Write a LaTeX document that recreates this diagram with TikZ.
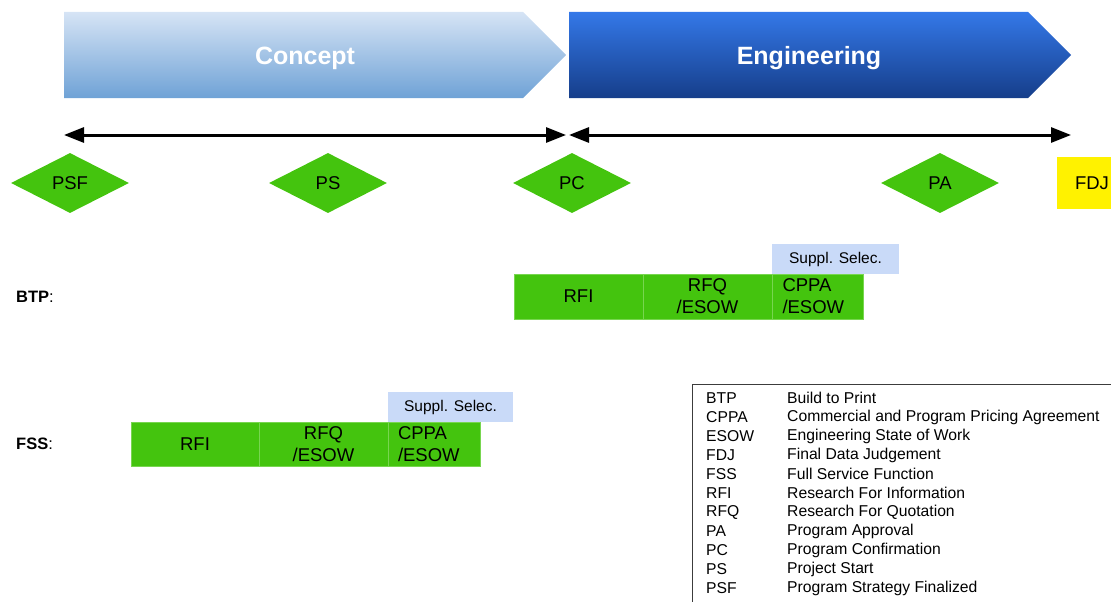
\documentclass[tikz,border=0pt]{standalone}
\usepackage{fontspec}
\setmainfont{Liberation Sans}
\usetikzlibrary{shapes.geometric,arrows.meta}
\definecolor{msgreen}{RGB}{68,196,14}
\definecolor{msline}{RGB}{120,214,80}
\definecolor{conceptTop}{RGB}{214,228,245}
\definecolor{conceptBot}{RGB}{111,162,214}
\definecolor{engTop}{RGB}{52,120,232}
\definecolor{engBot}{RGB}{22,62,138}
\definecolor{supplblue}{RGB}{201,218,248}
\definecolor{legendline}{RGB}{60,60,60}
\begin{document}
\begin{tikzpicture}[x=1pt,y=-1pt,
  phasetext/.style={text=white,anchor=base,font=\fontsize{25}{28}\selectfont\bfseries},
  timeline/.style={line width=3pt,{Triangle[length=20pt,width=15pt]}-{Triangle[length=20pt,width=15pt]}},
  milestone/.style={diamond,fill=msgreen,minimum width=118pt,minimum height=60pt,inner sep=0pt,
    font=\fontsize{18.5}{22}\selectfont},
  cell/.style={rectangle,fill=msgreen,draw=msline,line width=0.6pt,inner sep=0pt,
    font=\fontsize{18.5}{22}\selectfont,align=center},
  selbox/.style={rectangle,fill=supplblue,inner sep=0pt,font=\fontsize{15.5}{18}\selectfont},
  rowlabel/.style={anchor=west,inner sep=0pt,font=\fontsize{16.5}{20}\selectfont},
  legtext/.style={anchor=west,inner sep=0pt,font=\fontsize{15.7}{18}\selectfont}]
\useasboundingbox (0,0) rectangle (1111,602);

% phase chevrons
\shade[top color=conceptTop,bottom color=conceptBot]
  (64,12) -- (523,12) -- (566,55) -- (523,98) -- (64,98) -- cycle;
\shade[top color=engTop,bottom color=engBot]
  (569,12) -- (1028,12) -- (1071,55) -- (1028,98) -- (569,98) -- cycle;
\node[phasetext] (concept) at (305,64) {Concept};
\node[phasetext] (engineering) at (809,64) {Engineering};

% phase time spans
\coordinate (cs) at (64,135);
\coordinate (ce) at (566,135);
\coordinate (es) at (569,135);
\coordinate (ee) at (1071,135);
\draw[timeline] (cs) -- (ce);
\draw[timeline] (es) -- (ee);

% milestones
\node[milestone] (psf) at (70,183) {PSF};
\node[milestone] (ps) at (328,183) {PS};
\node[milestone] (pc) at (572,183) {PC};
\node[milestone] (pa) at (940,183) {PA};
\node[fill=yellow,minimum width=70pt,minimum height=52pt,inner sep=0pt,
  font=\fontsize{18.5}{22}\selectfont] (fdj) at (1092,183) {FDJ};

% Build to Print
\node[rowlabel] (btp) at (16,297) {\textbf{BTP}:};
\node[cell,minimum width=129pt,minimum height=45pt] (btprfi) at (578.5,296.5) {RFI};
\node[cell,minimum width=129pt,minimum height=45pt] (btprfq) at (707.5,296.5) {RFQ\\/ESOW};
\node[cell,minimum width=91pt,minimum height=45pt,align=left,text width=70pt] (btpcppa) at (817.5,296.5) {CPPA\\/ESOW};
\node[selbox,minimum width=127pt,minimum height=30pt] (btpsel) at (835.5,259) {Suppl. Selec.};

% Full Service Function
\node[rowlabel] (fss) at (16,444) {\textbf{FSS}:};
\node[cell,minimum width=128pt,minimum height=44pt] (fssrfi) at (195,444) {RFI};
\node[cell,minimum width=129pt,minimum height=44pt] (fssrfq) at (323.5,444) {RFQ\\/ESOW};
\node[cell,minimum width=92pt,minimum height=44pt,align=left,text width=72pt] (fsscppa) at (434,444) {CPPA\\/ESOW};
\node[selbox,minimum width=125pt,minimum height=30pt] (fsssel) at (450.5,407) {Suppl. Selec.};

% legend
\draw[legendline,line width=0.8pt] (692,610) -- (692,384) -- (1120,384);
\foreach \ab/\txt [count=\i] in {BTP/Build to Print,
    CPPA/Commercial and Program Pricing Agreement,
    ESOW/Engineering State of Work,
    FDJ/Final Data Judgement,
    FSS/Full Service Function,
    RFI/Research For Information,
    RFQ/Research For Quotation,
    PA/Program Approval,
    PC/Program Confirmation,
    PS/Project Start,
    PSF/Program Strategy Finalized}{
  \node[legtext] (abbr\i) at (706,379+19*\i) {\ab};
  \node[legtext] (desc\i) at (787,379+19*\i) {\txt};
}
\end{tikzpicture}
\end{document}
